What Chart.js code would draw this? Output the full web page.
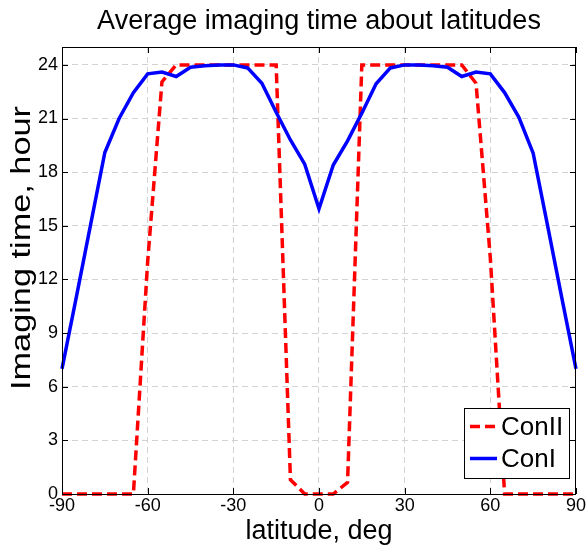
<!DOCTYPE html>
<html lang="en">
<head>
  <meta charset="UTF-8">
  <title>Average imaging time about latitudes</title>
  <script src="https://cdn.jsdelivr.net/npm/chart.js"></script>
  <style>
    html, body { margin: 0; padding: 0; background: #fff; }
  </style>
</head>
<body>
  <canvas id="graficoImagem" width="587" height="549"></canvas>

  <script>
    // Dados (latitude em graus, tempo em horas)
    const latitudes = [-90, -85, -80, -75, -70, -65, -60, -55, -50, -45, -40, -35, -30, -25, -20, -15, -10, -5,
                       0, 5, 10, 15, 20, 25, 30, 35, 40, 45, 50, 55, 60, 65, 70, 75, 80, 85, 90];
    const conI = [7.0, 11.0, 15.05, 19.1, 21.0, 22.45, 23.5, 23.6, 23.35, 23.87, 23.95, 24.0, 24.0, 23.83, 22.97, 21.35, 19.8, 18.45,
                  15.95, 18.4, 19.75, 21.3, 22.94, 23.83, 24.0, 24.0, 23.95, 23.87, 23.35, 23.6, 23.5, 22.45, 21.07, 19.06, 15.05, 11.0, 7.0];
    const conII = [0, 0, 0, 0, 0, 0, 13.0, 23.05, 24, 24, 24, 24, 24, 24, 24, 24, 0.8, 0,
                   0, 0, 0.65, 24, 24, 24, 24, 24, 24, 24, 24, 22.97, 13.2, 0, 0, 0, 0, 0, 0];
    const xTicks = [-90, -60, -30, 0, 30, 60, 90];
    const yTicks = [0, 3, 6, 9, 12, 15, 18, 21, 24];

    const fonte = '"Liberation Sans", Arial, sans-serif';

    // Moldura, marcas internas, legenda e título do eixo y (estilo MATLAB)
    const molduraPlugin = {
      id: 'moldura',
      afterDraw(chart) {
        const { ctx, chartArea: a, scales: { x, y } } = chart;
        ctx.save();
        ctx.strokeStyle = '#000';
        ctx.lineWidth = 1;
        ctx.setLineDash([]);
        ctx.beginPath();
        xTicks.forEach(v => {
          const px = Math.round(x.getPixelForValue(v)) + 0.5;
          ctx.moveTo(px, a.bottom); ctx.lineTo(px, a.bottom - 6);
          ctx.moveTo(px, a.top); ctx.lineTo(px, a.top + 6);
        });
        yTicks.forEach(v => {
          const py = Math.round(y.getPixelForValue(v)) + 0.5;
          ctx.moveTo(a.left, py); ctx.lineTo(a.left + 6, py);
          ctx.moveTo(a.right, py); ctx.lineTo(a.right - 6, py);
        });
        ctx.stroke();
        ctx.strokeRect(Math.round(a.left) + 0.5, Math.round(a.top) + 0.5,
                       Math.round(a.right - a.left) - 1, Math.round(a.bottom - a.top));

        // legenda
        const lx = 464.5, ly = 408.5, lw = 105, lh = 70;
        ctx.fillStyle = '#fff';
        ctx.fillRect(lx, ly, lw, lh);
        ctx.strokeRect(lx, ly, lw, lh);
        const itens = [chart.data.datasets[1], chart.data.datasets[0]];
        itens.forEach((ds, i) => {
          const cy = 426.5 + i * 32;
          ctx.strokeStyle = ds.borderColor;
          ctx.lineWidth = ds.borderWidth;
          ctx.setLineDash(ds.borderDash || []);
          ctx.beginPath();
          ctx.moveTo(470, cy); ctx.lineTo(497, cy);
          ctx.stroke();
          ctx.setLineDash([]);
          ctx.fillStyle = '#000';
          ctx.font = '26px ' + fonte;
          ctx.textAlign = 'left';
          ctx.textBaseline = 'middle';
          ctx.fillText(ds.label, 501, cy + 1);
        });

        // título do eixo y
        ctx.translate(30, 248);
        ctx.rotate(-Math.PI / 2);
        ctx.font = '27px ' + fonte;
        ctx.fillStyle = '#000';
        ctx.textAlign = 'center';
        ctx.textBaseline = 'alphabetic';
        const texto = 'Imaging time, hour';
        const w = ctx.measureText(texto).width;
        ctx.scale(284 / w, 1);
        ctx.fillText(texto, 0, 0);
        ctx.restore();
      }
    };

    const ctx = document.getElementById('graficoImagem').getContext('2d');
    const grafico = new Chart(ctx, {
      type: 'line',
      data: {
        datasets: [
          {
            label: 'ConI',
            data: latitudes.map((lat, i) => ({ x: lat, y: conI[i] })),
            borderColor: '#0000ff',
            borderWidth: 3.5,
            pointRadius: 0,
            tension: 0,
            clip: 4
          },
          {
            label: 'ConII',
            data: latitudes.map((lat, i) => ({ x: lat, y: conII[i] })),
            borderColor: '#ff0000',
            borderWidth: 3.5,
            borderDash: [10, 5],
            pointRadius: 0,
            tension: 0,
            clip: 4
          }
        ]
      },
      options: {
        responsive: false,
        animation: false,
        devicePixelRatio: 1,
        layout: { padding: { left: 0, right: 10, top: 0, bottom: 0 } },
        plugins: {
          legend: { display: false },
          tooltip: { enabled: false },
          title: {
            display: true,
            text: 'Average imaging time about latitudes',
            color: '#000',
            fullSize: false,
            font: { family: fonte, size: 27, weight: 'normal', lineHeight: 1.2 },
            padding: { top: 5.2, bottom: 9.4 }
          }
        },
        scales: {
          x: {
            type: 'linear',
            min: -90,
            max: 90,
            afterBuildTicks: s => { s.ticks = xTicks.map(v => ({ value: v })); },
            afterFit: s => { s.height = 55; },
            grid: { color: '#d2d2d2', lineWidth: 1, drawTicks: false },
            border: { display: false, dash: [6, 4] },
            ticks: { color: '#000', font: { family: fonte, size: 18 }, padding: 1, maxRotation: 0 },
            title: {
              display: true,
              text: 'latitude, deg',
              color: '#000',
              font: { family: fonte, size: 27 },
              padding: { top: 0, bottom: 1.2 }
            }
          },
          y: {
            min: 0,
            max: 25,
            afterBuildTicks: s => { s.ticks = yTicks.map(v => ({ value: v })); },
            afterFit: s => { s.width = 62; },
            grid: { color: '#d2d2d2', lineWidth: 1, drawTicks: false },
            border: { display: false, dash: [6, 4] },
            ticks: { color: '#000', font: { family: fonte, size: 18 }, padding: 4 }
          }
        }
      },
      plugins: [molduraPlugin]
    });
  </script>
</body>
</html>
